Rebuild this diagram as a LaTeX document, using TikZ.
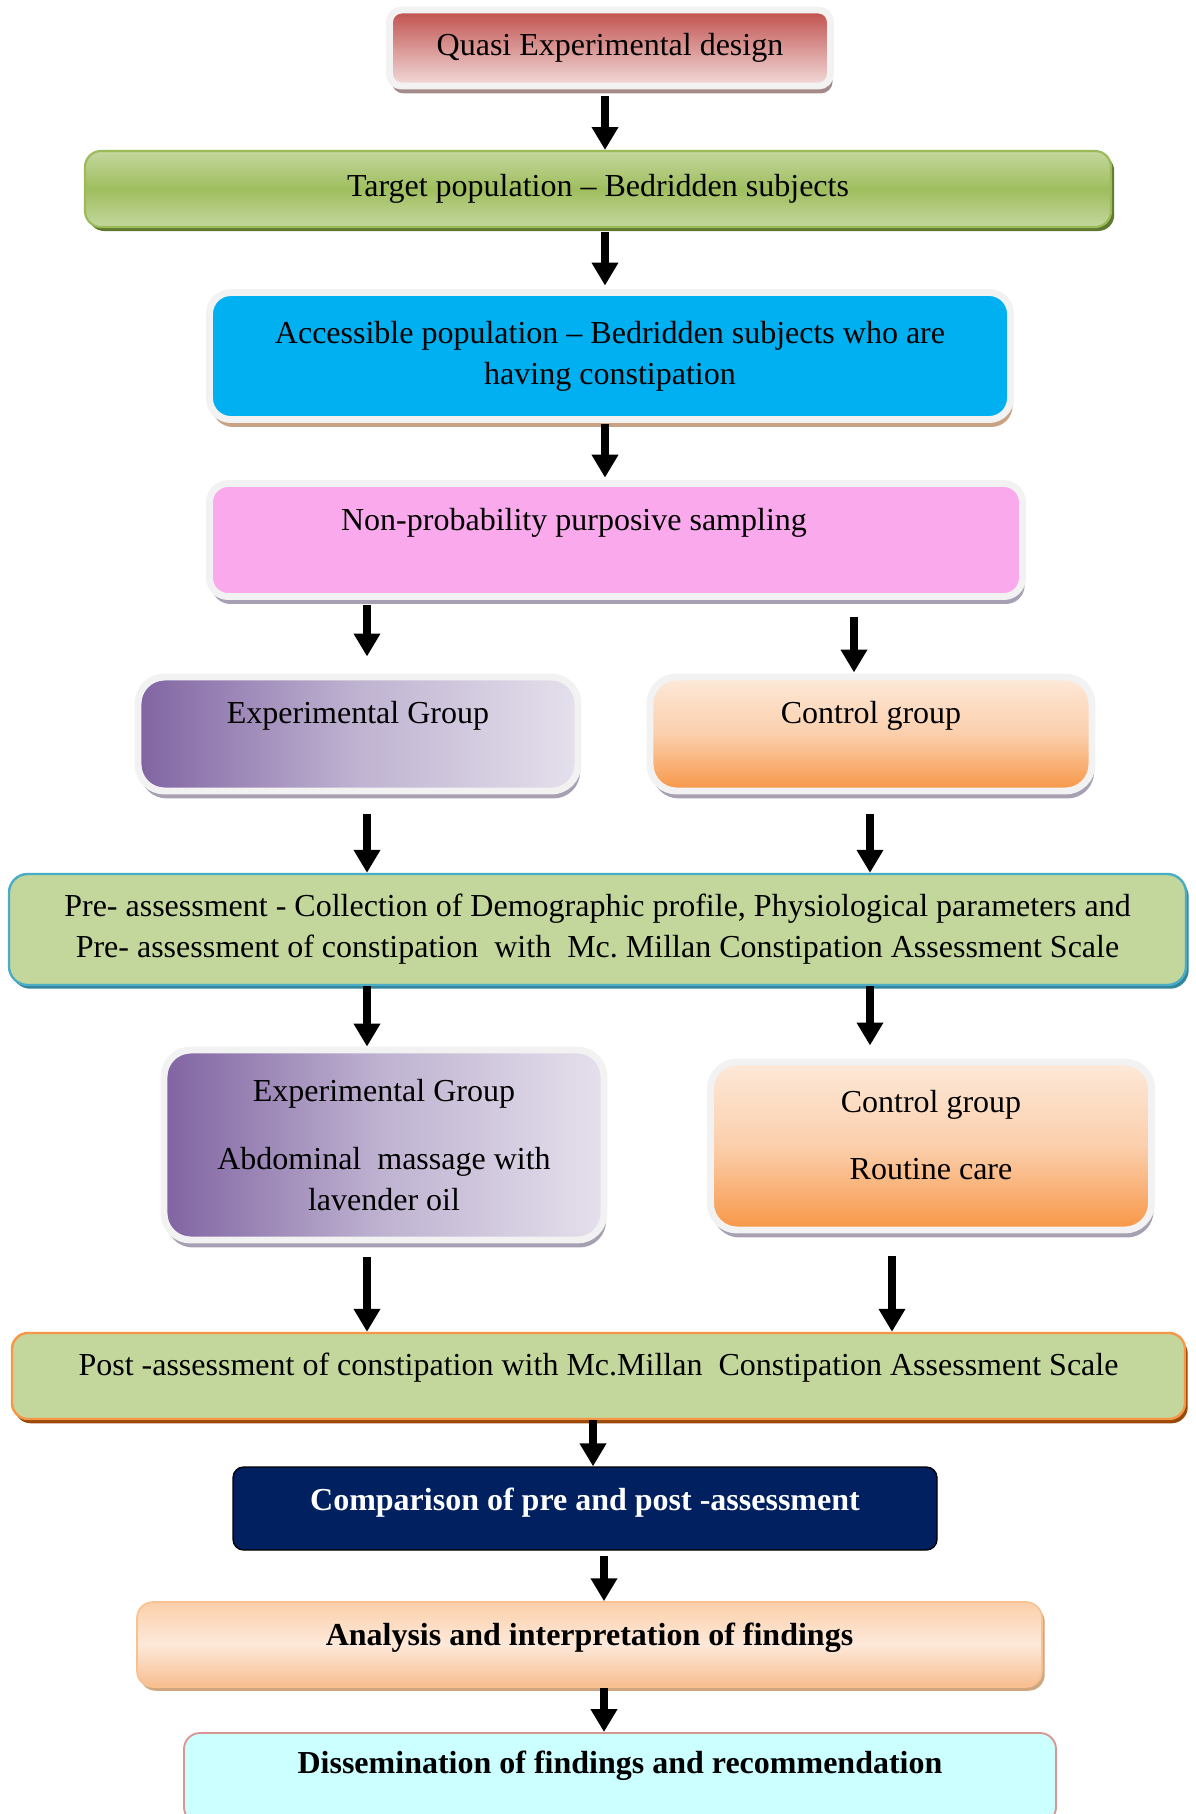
\documentclass[tikz,border=0pt]{standalone}
\usepackage{fontspec}
\setmainfont{Liberation Serif}
\usetikzlibrary{arrows.meta,shadows}

\definecolor{boxedge}{HTML}{F2F2F2}
\definecolor{dsgTop}{HTML}{C0504D}
\definecolor{dsgBot}{HTML}{F2DCDB}
\definecolor{dsgShd}{HTML}{A58A8A}
\definecolor{tgtLight}{HTML}{C4D79E}
\definecolor{tgtDark}{HTML}{9FBE5E}
\definecolor{tgtEdge}{HTML}{9BBB59}
\definecolor{tgtShd}{HTML}{5F7A30}
\definecolor{accFill}{HTML}{00B0F0}
\definecolor{accShd}{HTML}{C9A283}
\definecolor{smpFill}{HTML}{FAA9EC}
\definecolor{grpShd}{HTML}{A6A0B2}
\definecolor{expDark}{HTML}{8064A2}
\definecolor{expMid}{HTML}{BFB3D1}
\definecolor{expLight}{HTML}{E5E0EC}
\definecolor{ctlTop}{HTML}{FDE9D9}
\definecolor{ctlMid}{HTML}{FBCFAC}
\definecolor{ctlBot}{HTML}{F79646}
\definecolor{lgreen}{HTML}{C3D69B}
\definecolor{preEdge}{HTML}{4BACC6}
\definecolor{preShd}{HTML}{31859C}
\definecolor{postEdge}{HTML}{F79646}
\definecolor{postShd}{HTML}{984807}
\definecolor{navy}{HTML}{002060}
\definecolor{anaTop}{HTML}{FBCFA9}
\definecolor{anaMid}{HTML}{FDE9DA}
\definecolor{anaBot}{HTML}{F7BE8F}
\definecolor{anaEdge}{HTML}{F9C090}
\definecolor{anaShd}{HTML}{CFA680}
\definecolor{disFill}{HTML}{CCFFFF}
\definecolor{disEdge}{HTML}{D99594}

\tikzset{
  wh/.style 2 args={minimum width=#1*0.375pt, minimum height=#2*0.375pt},
  whitebox/.style={draw=boxedge, line width=2.6pt},
  grpshadow/.style={general shadow={fill=#1, shadow xshift=0.8pt, shadow yshift=-2.8pt}},
  design/.style={whitebox, rounded corners=4.5pt, top color=dsgTop, bottom color=dsgBot, grpshadow=dsgShd},
  target/.style={draw=tgtEdge, line width=0.8pt, rounded corners=6pt, top color=tgtLight, bottom color=tgtLight, middle color=tgtDark,
    general shadow={fill=tgtShd, shadow xshift=1.2pt, shadow yshift=-1.5pt}},
  access/.style={whitebox, rounded corners=8pt, fill=accFill, grpshadow=accShd},
  sampling/.style={whitebox, rounded corners=7pt, fill=smpFill, grpshadow=grpShd},
  expgrp/.style={whitebox, rounded corners=10pt, left color=expDark, right color=expLight, middle color=expMid, grpshadow=grpShd},
  ctlgrp/.style={whitebox, rounded corners=10pt, top color=ctlTop, bottom color=ctlBot, middle color=ctlMid, grpshadow=grpShd},
  preass/.style={draw=preEdge, line width=0.9pt, rounded corners=7pt, fill=lgreen,
    general shadow={fill=preShd, shadow xshift=1pt, shadow yshift=-1.4pt}},
  postass/.style={draw=postEdge, line width=0.9pt, rounded corners=6pt, fill=lgreen,
    general shadow={fill=postShd, shadow xshift=1pt, shadow yshift=-1.6pt}},
  compare/.style={draw=black, line width=0.5pt, rounded corners=4pt, fill=navy, text=white, font=\fontsize{12}{15.4}\selectfont\bfseries},
  analysis/.style={draw=anaEdge, line width=0.6pt, rounded corners=6pt, top color=anaTop, bottom color=anaBot, middle color=anaMid,
    general shadow={fill=anaShd, shadow xshift=1pt, shadow yshift=-1.4pt}, font=\fontsize{12}{15.4}\selectfont\bfseries},
  dissem/.style={draw=disEdge, line width=0.7pt, rounded corners=6pt, fill=disFill, font=\fontsize{12}{15.4}\selectfont\bfseries},
  arr/.style={line width=3pt, -{Triangle[width=9.5pt,length=8.6pt]}}
}

\begin{document}
\frenchspacing
\begin{tikzpicture}[x=0.375pt, y=-0.375pt,
  every node/.style={font=\fontsize{12}{15.4}\selectfont, align=center, inner sep=0pt}]

\useasboundingbox (0,0) rectangle (1196,1814);

\node[design,wh={441}{76}] (0) at (610,48) {Quasi Experimental design};

\node[target,wh={1026}{76}] (1) at (598,189) {Target population -- Bedridden subjects};

\node[access,wh={801}{127}] (2) at (610,356) {Accessible population -- Bedridden subjects who are\\having constipation};

\node[sampling,wh={813}{113},text depth=15.6pt] (3) at (616,540) {Non-probability purposive sampling\hspace*{31.5pt}};

\node[expgrp,wh={440}{114},text depth=16.3pt] (4) at (358,734) {Experimental Group};

\node[ctlgrp,wh={442}{114},text depth=16.3pt] (5) at (871,734) {Control group};

\node[preass,wh={1177}{111}] (6) at (597.5,929.5) {Pre- assessment - Collection of Demographic profile, Physiological parameters and\\Pre- assessment of constipation\ \ with\ \ Mc. Millan Constipation Assessment Scale};

\node[expgrp,wh={440}{190}] (7) at (384,1145) {Experimental Group\\[9.8pt]Abdominal\ \ massage with\\lavender oil};

\node[ctlgrp,wh={441}{168}] (8) at (931,1146) {Control group\\[9.8pt]Routine care\\[-7pt]\mbox{}};

\node[postass,wh={1173}{86},text depth=8.8pt] (9) at (598.5,1376) {Post -assessment of constipation with Mc.Millan\ \ Constipation Assessment Scale};

\node[compare,wh={704}{83},text depth=6.8pt] (10) at (585,1508.5) {Comparison of pre and post -assessment};

\node[analysis,wh={905}{85},text depth=7.6pt] (11) at (589.5,1644.5) {Analysis and interpretation of findings};

\node[dissem,wh={872}{90},text depth=11.8pt] (12) at (620,1778) {Dissemination of findings and recommendation};

% x positions of the arrows
\coordinate (m) at (605,0);
\coordinate (l) at (367,0);
\coordinate (r1) at (854,0);
\coordinate (r2) at (870,0);
\coordinate (r3) at (892,0);
\coordinate (p) at (593,0);
\coordinate (q) at (604,0);

\draw[]

  % From design to target
  (0.south -| m) edge[arr,shorten <=2.6pt] (1.north -| m)

  % From target to accessible
  (1.south -| m) edge[arr,shorten <=1.5pt,shorten >=1.3pt] (2.north -| m)

  % From accessible to sampling
  (2.south -| m) edge[arr,shorten <=0.5pt,shorten >=0.9pt] (3.north -| m)

  % From sampling to the two groups
  (3.south -| l) edge[arr,shorten <=2pt,shorten >=6.4pt] (4.north -| l)
  (3.south -| r1) edge[arr,shorten <=6.2pt,shorten >=0.4pt] (5.north -| r1)

  % From the groups to pre-assessment
  (4.south -| l) edge[arr,shorten <=7.5pt] (6.north -| l)
  (5.south -| r2) edge[arr,shorten <=7.5pt] (6.north -| r2)

  % From pre-assessment to the groups
  (6.south -| l) edge[arr] (7.north -| l)
  (6.south -| r2) edge[arr,shorten >=4.9pt] (8.north -| r2)

  % From the groups to post-assessment
  (7.south -| l) edge[arr,shorten <=4.9pt] (9.north -| l)
  (8.south -| r3) edge[arr,shorten <=8.6pt] (9.north -| r3)

  % From post-assessment to comparison
  (9.south -| p) edge[arr] (10.north -| p)

  % From comparison to analysis
  (10.south -| q) edge[arr,shorten <=1.9pt] (11.north -| q)

  % From analysis to dissemination
  (11.south -| q) edge[arr] (12.north -| q)

;

\end{tikzpicture}
\end{document}
